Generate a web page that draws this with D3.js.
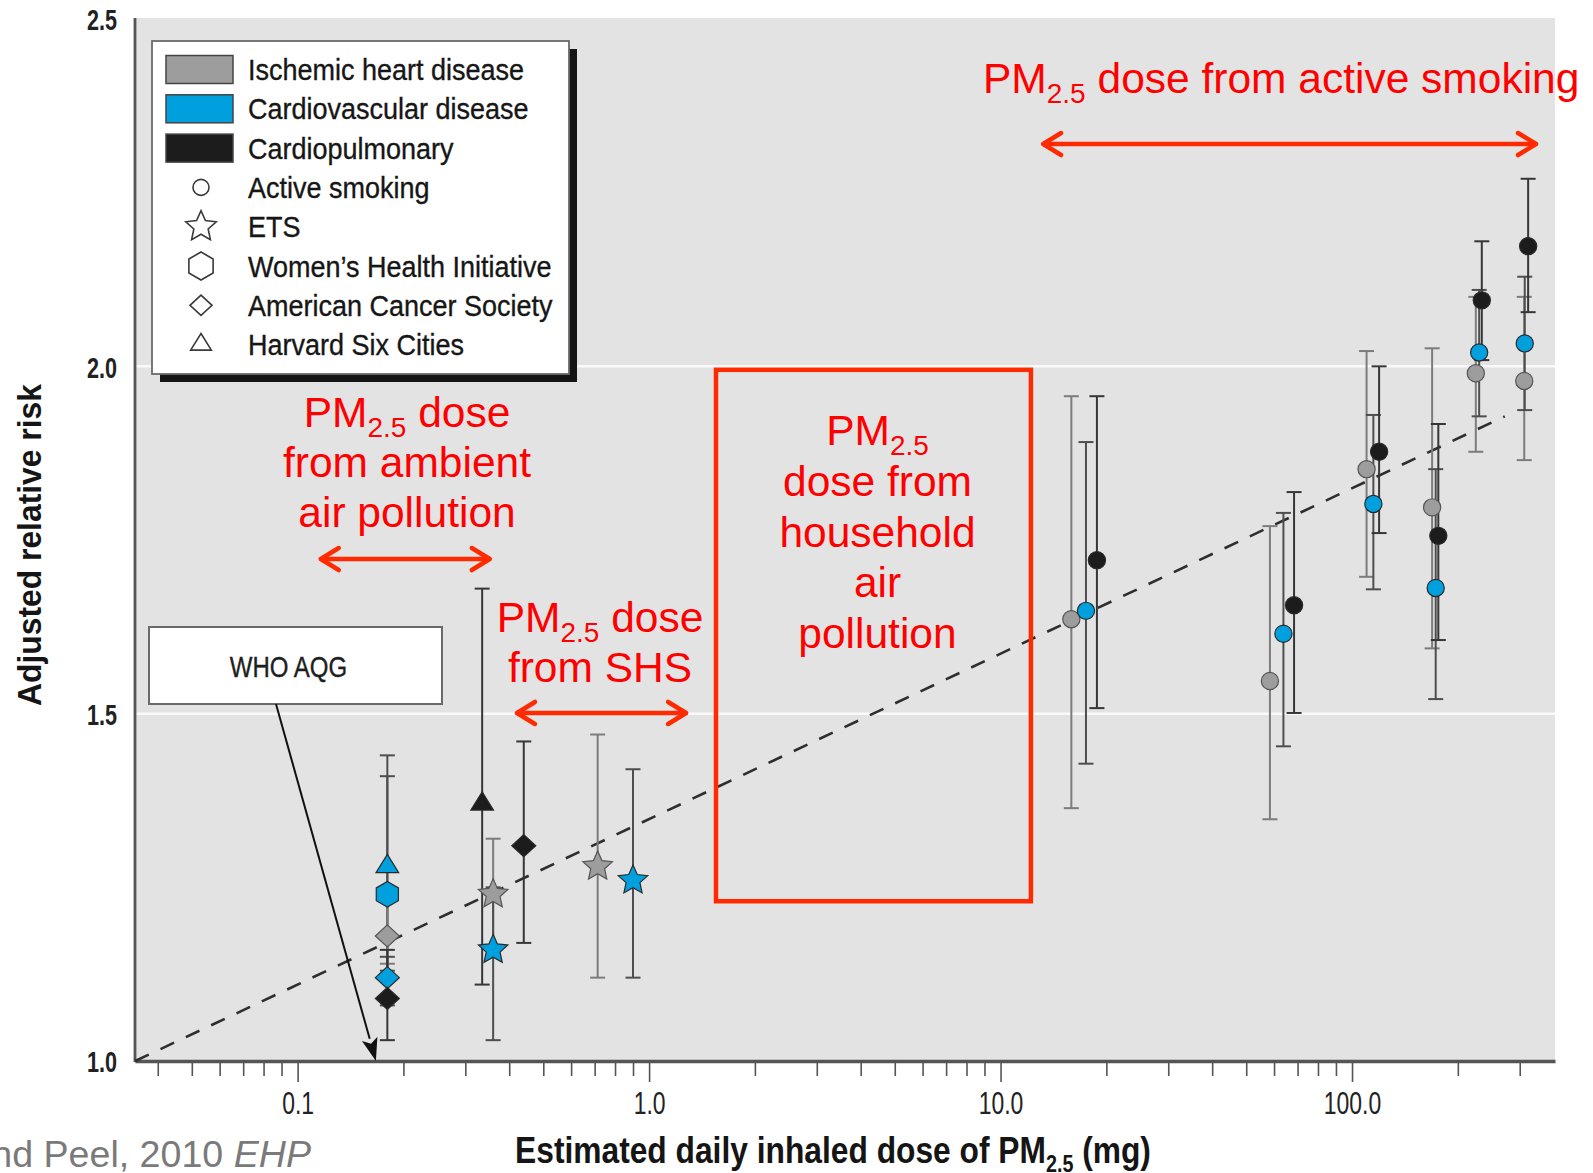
<!DOCTYPE html>
<html>
<head>
<meta charset="utf-8">
<script src="https://cdn.jsdelivr.net/npm/d3@7"></script>
<style>
  html, body { margin: 0; padding: 0; background: #fff; }
  svg { display: block; }
  text { white-space: pre; }
</style>
</head>
<body>
<svg id="chart" width="1593" height="1173"></svg>
<script>
// ---- outcome groups (colour) and study types (symbol) ----
const outcomes = ["Ischemic heart disease", "Cardiovascular disease", "Cardiopulmonary"];
const outcomeFill = ["#9d9d9d", "#00a0df", "#1c1c1c"];
const outcomeBar = ["#7c7c7c", "#4e4e4e", "#363636"];

const studies = ["Active smoking", "ETS", "Women\u2019s Health Initiative", "American Cancer Society", "Harvard Six Cities"];
const studyShape = ["circle", "star", "hexagon", "diamond", "triangle"];

// ---- estimates: daily inhaled PM2.5 dose (mg), adjusted RR and 95% CI ----
const dose    = [0.18, 0.18, 0.18, 0.18, 0.18, 0.335, 0.36, 0.36, 0.44, 0.714, 0.90,
                 15.9, 17.5, 18.8, 58.4, 63.8, 68.4, 110, 115, 119.4, 169, 173, 176, 225, 230, 234, 309, 310, 317];
const rr      = [1.28, 1.24, 1.18, 1.12, 1.09, 1.37, 1.24, 1.16, 1.31, 1.28, 1.26,
                 1.636, 1.648, 1.721, 1.547, 1.615, 1.656, 1.852, 1.802, 1.877, 1.797, 1.681, 1.756, 1.99, 2.02, 2.095, 1.979, 2.033, 2.173];
const rrLow   = [1.13, 1.09, 1.14, 1.08, 1.03, 1.11, 1.15, 1.03, 1.17, 1.12, 1.12,
                 1.364, 1.428, 1.508, 1.348, 1.453, 1.501, 1.697, 1.679, 1.76, 1.594, 1.521, 1.606, 1.877, 1.928, 2.009, 1.865, 1.937, 2.078];
const rrHigh  = [1.44, 1.41, 1.23, 1.15, 1.16, 1.68, 1.32, 1.25, 1.46, 1.47, 1.42,
                 1.957, 1.891, 1.957, 1.77, 1.789, 1.819, 2.022, 1.93, 2.0, 2.026, 1.852, 1.917, 2.10, 2.11, 2.18, 2.10, 2.129, 2.27];
const outcomeOf = [1, 1, 0, 1, 2, 2, 0, 1, 2, 0, 1,
                   0, 1, 2, 0, 1, 2, 0, 1, 2, 0, 1, 2, 0, 1, 2, 0, 1, 2];
const studyOf   = [4, 2, 3, 3, 3, 4, 1, 1, 3, 1, 1,
                   0, 0, 0, 0, 0, 0, 0, 0, 0, 0, 0, 0, 0, 0, 0, 0, 0, 0];

// log-linear trend through all estimates
const trendDose = [0.0345, 272];
const trendRR   = [1.0, 1.928];

// dose ranges of each exposure source, and the WHO guideline dose
const ambientRange   = [0.1156, 0.3545];
const shsRange       = [0.418, 1.283];
const smokingRange   = [13.13, 336];
const householdRange = [1.55, 12.2];
const householdRR    = [1.23, 1.995];
const whoDose = 0.167;

// axis ticks
const yTicks = [1.0, 1.5, 2.0, 2.5];
const xMajorTicks = [0.1, 1, 10, 100];
const xTickLabels = ["0.1", "1.0", "10.0", "100.0"];

// ---- layout ----
const svg = d3.select("#chart");
const plot = { left: 135, right: 1555, top: 19, bottom: 1061 };
const xDomain = [0.03446, 378];

const x = d3.scaleLog().domain(xDomain).range([plot.left, plot.right]);
const y = d3.scaleLinear().domain([1.0, 2.5]).range([plot.bottom, plot.top]);

const RED_TEXT = "#ff0000";
const RED_LINE = "#ff2a00";
const SANS = "'Liberation Sans', Arial, Helvetica, sans-serif";

// plot background
svg.append("rect")
  .attr("x", plot.left).attr("y", plot.top - 1)
  .attr("width", plot.right - plot.left).attr("height", plot.bottom - plot.top + 1)
  .attr("fill", "#e3e3e3");

// white horizontal gridlines
svg.append("g").selectAll("line")
  .data(yTicks.filter(v => v > 1.0 && v < 2.5))
  .join("line")
  .attr("x1", plot.left).attr("x2", plot.right)
  .attr("y1", d => y(d)).attr("y2", d => y(d))
  .attr("stroke", "#fafafa").attr("stroke-width", 2.5);

// ---- x axis (log, with minor ticks) ----
const allXTicks = [];
for (let e = -2; e <= 2; e++) {
  for (let m = 1; m <= 9; m++) {
    const v = +(m * Math.pow(10, e)).toPrecision(6);
    if (v >= xDomain[0] && v <= xDomain[1]) allXTicks.push(v);
  }
}
const isMajor = v => xMajorTicks.some(t => Math.abs(t - v) / t < 1e-6);

const xAxis = d3.axisBottom(x)
  .tickValues(allXTicks)
  .tickSize(14)
  .tickSizeOuter(0)
  .tickFormat(v => {
    const i = xMajorTicks.findIndex(t => Math.abs(t - v) / t < 1e-6);
    return i >= 0 ? xTickLabels[i] : "";
  });

const gx = svg.append("g").attr("transform", `translate(0,${plot.bottom})`).call(xAxis);
gx.select(".domain").attr("stroke", "#555").attr("stroke-width", 3.5);
gx.selectAll(".tick line")
  .attr("stroke", "#555").attr("stroke-width", 1.6)
  .attr("y1", 2)
  .attr("y2", d => isMajor(d) ? 21 : 15);
gx.selectAll(".tick text")
  .attr("y", 53).attr("dy", null)
  .attr("fill", "#222")
  .attr("font-family", SANS)
  .attr("font-size", 31)
  .attr("transform", "scale(0.74,1)");

// ---- y axis ----
const yScaleX = 0.72;
const yAxis = d3.axisLeft(y)
  .tickValues(yTicks)
  .tickSize(0)
  .tickPadding(0)
  .tickFormat(d3.format(".1f"));
const gy = svg.append("g").attr("transform", `translate(${plot.left},0)`).call(yAxis);
gy.select(".domain").attr("stroke", "#555").attr("stroke-width", 2.8)
  .attr("d", `M0,${plot.top - 1}V${plot.bottom + 1}`);
gy.selectAll(".tick text")
  .attr("x", -18 / yScaleX).attr("dy", "0.36em")
  .attr("fill", "#222")
  .attr("font-family", SANS)
  .attr("font-weight", "bold")
  .attr("font-size", 30)
  .attr("transform", `scale(${yScaleX},1)`);

// ---- trend line ----
svg.append("path")
  .attr("d", d3.line()([[x(trendDose[0]), y(trendRR[0])], [x(trendDose[1]), y(trendRR[1])]]))
  .attr("stroke", "#2e2e2e").attr("stroke-width", 2.6)
  .attr("stroke-dasharray", "15,13").attr("fill", "none");

// ---- symbol shapes ----
function shapePath(type, s) {
  const pts = [];
  switch (type) {
    case "circle":
      return `M${s},0A${s},${s} 0 1,1 ${-s},0A${s},${s} 0 1,1 ${s},0Z`;
    case "star":
      for (let k = 0; k < 10; k++) {
        const r = k % 2 === 0 ? s : s * 0.47;
        const a = -Math.PI / 2 + k * Math.PI / 5;
        pts.push([r * Math.cos(a), r * Math.sin(a)]);
      }
      break;
    case "hexagon":
      for (let k = 0; k < 6; k++) {
        const a = -Math.PI / 2 + k * Math.PI / 3;
        pts.push([s * Math.cos(a), s * Math.sin(a)]);
      }
      break;
    case "diamond":
      pts.push([0, -s * 0.92], [s, 0], [0, s * 0.92], [-s, 0]);
      break;
    case "triangle": {
      const w = s * 1.8, h = s * 1.45;
      pts.push([0, -h * 2 / 3], [w / 2, h / 3], [-w / 2, h / 3]);
      break;
    }
  }
  return "M" + pts.map(p => p[0].toFixed(2) + "," + p[1].toFixed(2)).join("L") + "Z";
}
const plotSize = { circle: 8.6, star: 15.5, hexagon: 12.8, diamond: 12, triangle: 12.6 };
const legendSize = { circle: 8, star: 16, hexagon: 14, diamond: 11, triangle: 11.5 };

// ---- points table ----
const points = dose.map((d, i) => ({
  dose: d, rr: rr[i], lo: rrLow[i], hi: rrHigh[i],
  outcome: outcomeOf[i], shape: studyShape[studyOf[i]]
}));

// confidence intervals
const bars = svg.append("g");
points.forEach(p => {
  const cx = x(p.dose);
  const col = outcomeBar[p.outcome];
  const g = bars.append("g").attr("stroke", col).attr("stroke-width", 2);
  g.append("line").attr("x1", cx).attr("x2", cx).attr("y1", y(p.lo)).attr("y2", y(p.hi));
  g.append("line").attr("x1", cx - 7.5).attr("x2", cx + 7.5).attr("y1", y(p.lo)).attr("y2", y(p.lo));
  g.append("line").attr("x1", cx - 7.5).attr("x2", cx + 7.5).attr("y1", y(p.hi)).attr("y2", y(p.hi));
});

// point estimates
svg.append("g").selectAll("path")
  .data(points)
  .join("path")
  .attr("transform", p => `translate(${x(p.dose)},${y(p.rr)})`)
  .attr("d", p => shapePath(p.shape, plotSize[p.shape]))
  .attr("fill", p => outcomeFill[p.outcome])
  .attr("stroke", p => p.outcome === 0 ? "#555" : "#2a2a2a")
  .attr("stroke-width", 1.2);

// ---- legend ----
const lg = svg.append("g");
lg.append("rect").attr("x", 160).attr("y", 49).attr("width", 417).attr("height", 333).attr("fill", "#151515");
lg.append("rect").attr("x", 152).attr("y", 41).attr("width", 417).attr("height", 333)
  .attr("fill", "#fff").attr("stroke", "#6a6a6a").attr("stroke-width", 1.8);

const legendLabels = outcomes.concat(studies);
legendLabels.forEach((label, i) => {
  const cy = 69.5 + 39.3 * i;
  if (i < outcomes.length) {
    lg.append("rect").attr("x", 166).attr("y", cy - 14).attr("width", 67).attr("height", 28)
      .attr("fill", outcomeFill[i]).attr("stroke", "#444").attr("stroke-width", 1.5);
  } else {
    const shape = studyShape[i - outcomes.length];
    lg.append("path")
      .attr("transform", `translate(201,${cy})`)
      .attr("d", shapePath(shape, legendSize[shape]))
      .attr("fill", "none").attr("stroke", "#3a3a3a").attr("stroke-width", 1.6);
  }
  lg.append("g").attr("transform", `translate(248,${cy + 10.5}) scale(0.915,1)`)
    .append("text")
    .attr("font-family", SANS).attr("font-size", 29.5).attr("fill", "#161616")
    .attr("stroke", "#161616").attr("stroke-width", 0.35)
    .text(label);
});

// ---- WHO AQG call-out ----
svg.append("rect").attr("x", 149).attr("y", 627).attr("width", 293).attr("height", 77)
  .attr("fill", "#fff").attr("stroke", "#6a6a6a").attr("stroke-width", 2);
svg.append("g").attr("transform", "translate(288.5,677) scale(0.8,1)")
  .append("text").attr("text-anchor", "middle")
  .attr("font-family", SANS).attr("font-size", 30).attr("fill", "#1e1e1e")
  .attr("stroke", "#1e1e1e").attr("stroke-width", 0.4)
  .text("WHO AQG");
{
  const x0 = 276, y0 = 704, x1 = x(whoDose), y1 = y(1.0);
  const len = Math.hypot(x1 - x0, y1 - y0);
  const ux = (x1 - x0) / len, uy = (y1 - y0) / len;
  const hl = 23, hw = 8;
  const bx = x1 - ux * hl, by = y1 - uy * hl;
  svg.append("line").attr("x1", x0).attr("y1", y0).attr("x2", bx).attr("y2", by)
    .attr("stroke", "#111").attr("stroke-width", 2);
  svg.append("path")
    .attr("d", `M${x1},${y1}L${bx - uy * hw},${by + ux * hw}L${bx + ux * 5},${by + uy * 5}L${bx + uy * hw},${by - ux * hw}Z`)
    .attr("fill", "#111");
}

// ---- red annotations ----
function rangeArrow(range, rrLevel) {
  const xa = x(range[0]), xb = x(range[1]), yy = y(rrLevel);
  const g = svg.append("g").attr("stroke", RED_LINE).attr("stroke-width", 4.5)
    .attr("fill", "none").attr("stroke-linecap", "round").attr("stroke-linejoin", "round");
  g.append("line").attr("x1", xa + 2).attr("x2", xb - 2).attr("y1", yy).attr("y2", yy);
  g.append("path").attr("d", `M${xa + 19},${yy - 11}L${xa + 1},${yy}L${xa + 19},${yy + 11}`);
  g.append("path").attr("d", `M${xb - 19},${yy - 11}L${xb - 1},${yy}L${xb - 19},${yy + 11}`);
}
rangeArrow(ambientRange, 1.7226);
rangeArrow(shsRange, 1.501);
rangeArrow(smokingRange, 2.32);

svg.append("rect")
  .attr("x", x(householdRange[0])).attr("y", y(householdRR[1]))
  .attr("width", x(householdRange[1]) - x(householdRange[0]))
  .attr("height", y(householdRR[0]) - y(householdRR[1]))
  .attr("fill", "none").attr("stroke", RED_LINE).attr("stroke-width", 4.5);

// multi-line red label; "PM" lines carry a 2.5 subscript
function redLabel(lines, cx, baselines, anchor) {
  lines.forEach((line, i) => {
    const t = svg.append("text")
      .attr("x", cx).attr("y", baselines[i])
      .attr("text-anchor", anchor || "middle")
      .attr("font-family", SANS).attr("font-size", 42.5).attr("fill", RED_TEXT);
    const parts = line.split("|");
    if (parts.length === 1) { t.text(line); return; }
    t.append("tspan").text(parts[0]);
    t.append("tspan").attr("font-size", 28).attr("dy", 10).text("2.5");
    t.append("tspan").attr("dy", -10).text(parts[1]);
  });
}
redLabel(["PM| dose", "from ambient", "air pollution"], 407, [427, 477, 527]);
redLabel(["PM| dose", "from SHS"], 600, [632, 682]);
redLabel(["PM|", "dose from", "household", "air", "pollution"], 877.5, [445, 496, 547, 597, 648]);
redLabel(["PM| dose from active smoking"], 983, [93], "start");

// ---- axis titles ----
{
  const g = svg.append("g").attr("transform", "translate(833,1163)");
  const t = g.append("text").attr("text-anchor", "middle")
    .attr("font-family", SANS).attr("font-weight", "bold").attr("font-size", 37).attr("fill", "#151515");
  t.append("tspan").text("Estimated daily inhaled dose of PM");
  t.append("tspan").attr("font-size", 23).attr("dy", 9).text("2.5");
  t.append("tspan").attr("dy", -9).text(" (mg)");
  const w = t.node().getComputedTextLength();
  g.attr("transform", `translate(833,1163) scale(${636 / w},1)`);
}
{
  const g = svg.append("g");
  const t = g.append("text").attr("text-anchor", "middle")
    .attr("font-family", SANS).attr("font-weight", "bold").attr("font-size", 34).attr("fill", "#151515")
    .text("Adjusted relative risk");
  const w = t.node().getComputedTextLength();
  g.attr("transform", `translate(41,545) rotate(-90) scale(${322 / w},1)`);
}

// ---- source ----
{
  const g = svg.append("g").attr("transform", "translate(311,1167) scale(1.03,1)");
  const t = g.append("text").attr("text-anchor", "end")
    .attr("font-family", SANS).attr("font-size", 36.5).attr("fill", "#7a7a7a");
  t.append("tspan").text("Smith and Peel, 2010 ");
  t.append("tspan").attr("font-style", "italic").text("EHP");
}
</script>
</body>
</html>
